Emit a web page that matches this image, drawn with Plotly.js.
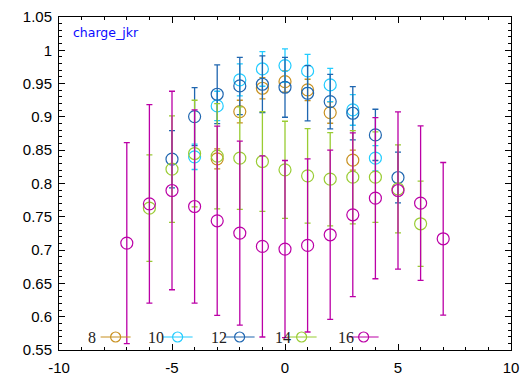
<!DOCTYPE html>
<html>
<head>
<meta charset="utf-8">
<script src="https://cdn.plot.ly/plotly-3.0.1.min.js"></script>
<style>html,body{margin:0;padding:0;background:#fff;}#chart{width:522px;height:376px;}</style>
</head>
<body>
<div id="chart"></div>
<script>
// ---- data ----
var seriesNames = ['8', '10', '12', '14', '16'];
var seriesColors = ['#c8901f', '#22ccff', '#1f66b0', '#99cc33', '#bb00a6'];

var x8 = [-3, -2, -1, 0, 1, 2, 3];
var y8 = [0.837, 0.908, 0.943, 0.953, 0.9405, 0.9065, 0.835];
var e8 = [0.015, 0.017, 0.016, 0.016, 0.016, 0.016, 0.015];

var x10 = [-4, -3, -2, -1, 0, 1, 2, 3, 4];
var y10 = [0.840, 0.9165, 0.9555, 0.972, 0.977, 0.969, 0.948, 0.9105, 0.838];
var e10 = [0.019, 0.022, 0.024, 0.026, 0.025, 0.025, 0.025, 0.023, 0.019];

var x12 = [-5, -4, -3, -2, -1, 0, 1, 2, 3, 4, 5];
var y12 = [0.8365, 0.9005, 0.934, 0.9465, 0.949, 0.9445, 0.9355, 0.923, 0.9055, 0.873, 0.809];
var e12 = [0.043, 0.0435, 0.044, 0.043, 0.0425, 0.045, 0.0415, 0.041, 0.040, 0.0385, 0.038];

var x14 = [-6, -5, -4, -3, -2, -1, 0, 1, 2, 3, 4, 5, 6];
var y14 = [0.763, 0.8215, 0.845, 0.841, 0.838, 0.833, 0.8205, 0.8115, 0.8065, 0.8095, 0.8095, 0.792, 0.7395];
var e14 = [0.080, 0.080, 0.080, 0.079, 0.077, 0.075, 0.073, 0.071, 0.070, 0.070, 0.068, 0.066, 0.064];

var x16 = [-7, -6, -5, -4, -3, -2, -1, 0, 1, 2, 3, 4, 5, 6, 7];
var y16 = [0.7105, 0.7695, 0.7895, 0.7655, 0.744, 0.7255, 0.7055, 0.7015, 0.707, 0.723, 0.753, 0.778, 0.7895, 0.7705, 0.717];
var e16 = [0.151, 0.149, 0.149, 0.145, 0.142, 0.138, 0.136, 0.133, 0.130, 0.127, 0.123, 0.121, 0.118, 0.116, 0.1145];

var xTickVals = [-10, -5, 0, 5, 10];
var xTickText = ['-10', '-5', '0', '5', '10'];
var chartLabel = 'charge_jkr';

// ---- build traces ----
var xs = [x8, x10, x12, x14, x16];
var ys = [y8, y10, y12, y14, y16];
var es = [e8, e10, e12, e14, e16];

var traces = [];
for (var i = 0; i < seriesNames.length; i++) {
  traces.push({
    type: 'scatter', mode: 'markers',
    x: xs[i], y: ys[i],
    name: seriesNames[i], showlegend: false,
    marker: {symbol: 'circle-open', size: 12, color: seriesColors[i], line: {width: 1.2, color: seriesColors[i]}},
    error_y: {type: 'data', array: es[i], visible: true, color: seriesColors[i], thickness: 1.3, width: 3}
  });
}
// legend-only entries
for (var j = 0; j < seriesNames.length; j++) {
  traces.push({
    type: 'scatter', mode: 'lines+markers',
    x: [null], y: [null],
    name: ' ', showlegend: true,
    line: {color: seriesColors[j], width: 1.2},
    marker: {symbol: 'circle-open', size: 10, color: seriesColors[j], line: {width: 1.2, color: seriesColors[j]}}
  });
}

var annotations = [{
  xref: 'paper', yref: 'paper', x: 0.027, y: 0.953,
  xanchor: 'left', yanchor: 'middle', showarrow: false,
  text: chartLabel, font: {family: 'DejaVu Sans', size: 12.5, color: '#0a0aff'}
}];
for (var k = 0; k < seriesNames.length; k++) {
  annotations.push({
    xref: 'paper', yref: 'paper', x: 0.073 + k * 0.1405, y: 0.039,
    xanchor: 'center', yanchor: 'middle', showarrow: false,
    text: seriesNames[k], font: {family: 'Liberation Serif', size: 16, color: '#222'}
  });
}

var axisCommon = {
  showgrid: false, zeroline: false, showline: true, linecolor: '#000', linewidth: 1,
  mirror: 'allticks', ticks: 'inside', ticklen: 6, tickwidth: 1, tickcolor: '#000',
  tickfont: {family: 'Liberation Sans', size: 15, color: '#000'}
};

var layout = {
  width: 522, height: 376,
  margin: {l: 59, r: 11, t: 17, b: 26, pad: 0},
  paper_bgcolor: '#fff', plot_bgcolor: '#fff',
  showlegend: true,
  legend: {orientation: 'h', x: 0.081, y: 0.039, xanchor: 'left', yanchor: 'middle',
           bgcolor: 'rgba(0,0,0,0)', entrywidth: 17, entrywidthmode: 'pixels',
           font: {size: 12}, traceorder: 'normal'},
  xaxis: Object.assign({}, axisCommon, {
    range: [-10, 10], tickmode: 'array', tickvals: xTickVals, ticktext: xTickText,
    ticklabelstandoff: 4,
    minor: {dtick: 1, ticklen: 3, tickcolor: '#000', ticks: 'inside'}
  }),
  yaxis: Object.assign({}, axisCommon, {
    range: [0.55, 1.05], dtick: 0.05, tick0: 0.55, ticklabelstandoff: 3,
    minor: {dtick: 0.01, ticklen: 3, tickcolor: '#000', ticks: 'inside'}
  }),
  annotations: annotations
};

Plotly.newPlot('chart', traces, layout, {staticPlot: true, displayModeBar: false});
</script>
</body>
</html>
